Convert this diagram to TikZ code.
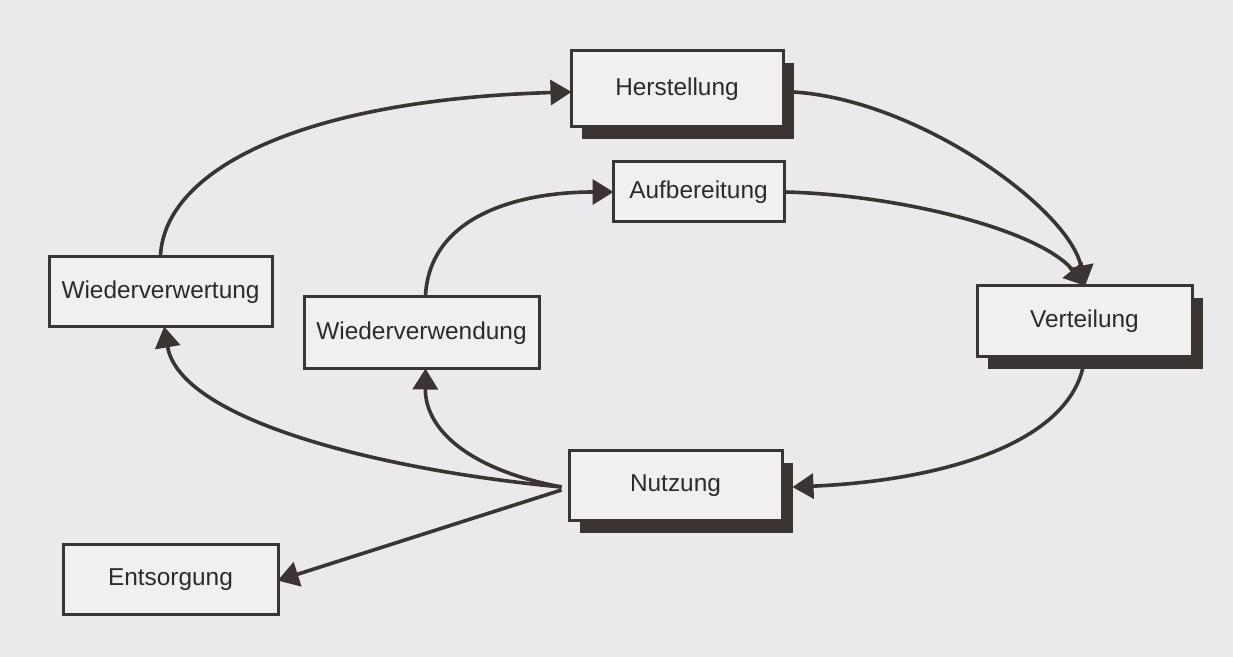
\documentclass[tikz,border=0pt]{standalone}
\usepackage{fontspec}
\setmainfont{Liberation Sans}
\usetikzlibrary{arrows.meta,shadows}
\definecolor{paper}{RGB}{236,233,236}
\definecolor{boxfill}{RGB}{241,239,240}
\definecolor{ink}{RGB}{58,52,50}
\definecolor{txt}{RGB}{45,42,42}
\tikzset{
  box/.style={draw=ink, line width=1.5pt, fill=boxfill, inner sep=0pt,
    text=txt, font=\fontsize{12.2pt}{14pt}\selectfont},
  shbox/.style={box, drop shadow={shadow xshift=5.5pt, shadow yshift=-6pt, opacity=1, fill=ink}},
  flow/.style={draw=ink, line width=1.8pt, -{Triangle[length=10.5pt,width=12.5pt]}, shorten >=-1pt}
}
\begin{document}
\begin{tikzpicture}[x=0.5pt,y=-0.5pt]
\fill[paper] (0,0) rectangle (1233,657);
\useasboundingbox (0,0) rectangle (1233,657);

\node[shbox, minimum width=106pt, minimum height=38pt] (her) at (677,89) {Herstellung};
\node[box, minimum width=85.5pt, minimum height=30pt] (auf) at (698.5,192) {Aufbereitung};
\node[box, minimum width=111.5pt, minimum height=35pt] (wr) at (160.5,292) {Wiederverwertung};
\node[box, minimum width=117.5pt, minimum height=36pt] (wd) at (421.5,333) {Wiederverwendung};
\node[shbox, minimum width=107.5pt, minimum height=35.5pt] (ver) at (1084.5,321.5) {Verteilung};
\node[shbox, minimum width=106.5pt, minimum height=35pt] (nu) at (675.5,486) {Nutzung};
\node[box, minimum width=107.5pt, minimum height=35pt] (ent) at (170.5,580) {Entsorgung};

\coordinate (hout) at ([xshift=4.5pt,yshift=-1.5pt]her.east);
\coordinate (vin) at (ver.north);
\coordinate (nin) at ([xshift=5.5pt,yshift=-0.5pt]nu.east);
\coordinate (nout) at ([xshift=-3pt,yshift=-0.5pt]nu.west);

\draw[flow] (wr.north) .. controls (165,170) and (300,100) .. ([yshift=-1.5pt]her.west);
\draw[flow] (hout) .. controls (920,100) and (1070,210) .. (vin);
\draw[flow] (auf.east) .. controls (900,195) and (1040,230) .. (vin);
\draw[flow] ([xshift=2pt]wd.north) .. controls (430,215) and (520,192) .. (auf.west);
\draw[flow] (ver.south) .. controls (1075,440) and (950,480) .. (nin);
\draw[flow] (nout) .. controls (380,470) and (180,420) .. ([xshift=2pt]wr.south);
\draw[flow] (nout) .. controls (470,470) and (425,430) .. ([xshift=2pt]wd.south);
\draw[flow] ([yshift=-1.5pt]nout) -- (ent.east);
\end{tikzpicture}
\end{document}
